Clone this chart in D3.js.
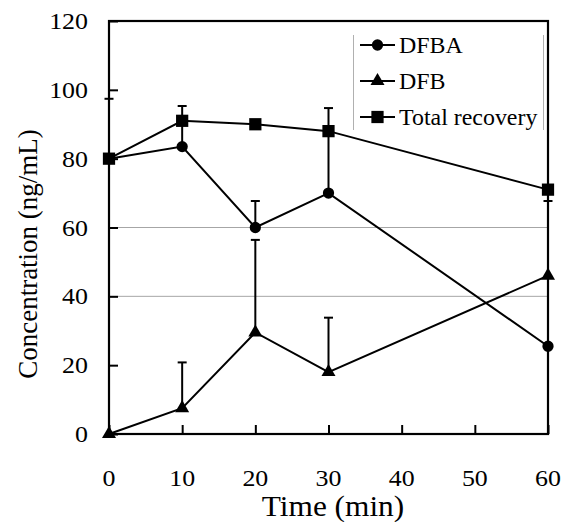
<!DOCTYPE html>
<html><head><meta charset="utf-8">
<script src="https://cdn.jsdelivr.net/npm/d3@7"></script>
<style>body{margin:0;background:#fff}svg{display:block}text{font-family:"Liberation Serif","Times New Roman",serif;fill:#000}</style>
</head><body>
<svg id="c" width="564" height="522"></svg>
<script>
const times = [0, 10, 20, 30, 60];
const xTicks = [0, 10, 20, 30, 40, 50, 60];
const yTicks = [0, 20, 40, 60, 80, 100, 120];
const gridValues = [40, 60];
const dfba = [80, 83.5, 60, 70, 25.5];
const dfb = [0, 7.5, 29.5, 18, 46];
const total = [80, 91, 90, 88, 71];
// error bar lengths (0 = none drawn)
const dfbaErrUp = [0, 7.5, 7.7, 18, 0];
const dfbErrUp = [0, 13.3, 26.9, 15.8, 0];
const totalErrUp = [17.4, 4.3, 0, 6.7, 0];
const totalErrDown = [0, 0, 0, 0, 3.3];
const seriesNames = ["DFBA", "DFB", "Total recovery"];

const svg = d3.select("#c");
const L = 109, R = 548, T = 21, B = 434;
const x = d3.scaleLinear().domain([0, 60]).range([L, R]);
const y = d3.scaleLinear().domain([0, 120]).range([B, T]);

// gridlines
svg.append("g").selectAll("line").data(gridValues).join("line")
  .attr("x1", L).attr("x2", R).attr("y1", d => y(d)).attr("y2", d => y(d))
  .attr("stroke", "#a6a6a6").attr("stroke-width", 1);

// legend box sides
const lg = svg.append("g");
lg.append("line").attr("x1", 353.5).attr("x2", 353.5).attr("y1", 35).attr("y2", 130).attr("stroke", "#b0b0b0");
lg.append("line").attr("x1", 543.5).attr("x2", 543.5).attr("y1", 35).attr("y2", 130).attr("stroke", "#b0b0b0");

// axes with inward ticks
const xAxis = d3.axisBottom(x).tickValues(xTicks).tickSize(-9).tickFormat("");
const yAxis = d3.axisLeft(y).tickValues(yTicks).tickSize(-9).tickFormat("");
const gx = svg.append("g").attr("transform", `translate(0,${B})`).call(xAxis);
const gy = svg.append("g").attr("transform", `translate(${L},0)`).call(yAxis);
[gx, gy].forEach(g => {
  g.select(".domain").remove();
  g.selectAll(".tick line").attr("stroke", "#000").attr("stroke-width", 2);
});
// frame
svg.append("rect").attr("x", L).attr("y", T).attr("width", R - L).attr("height", B - T)
  .attr("fill", "none").attr("stroke", "#000").attr("stroke-width", 2.2);

// tick labels
svg.append("g").selectAll("text").data(xTicks).join("text")
  .attr("transform", d => `translate(${x(d)},486) scale(1.08,1)`)
  .attr("text-anchor", "middle").attr("font-size", 24).text(d => d);
svg.append("g").selectAll("text").data(yTicks).join("text")
  .attr("transform", d => `translate(88,${y(d) + 8}) scale(1.08,1)`)
  .attr("text-anchor", "end").attr("font-size", 24).text(d => d);

// axis titles
svg.append("text").attr("transform", "translate(333,516) scale(1.08,1)")
  .attr("text-anchor", "middle").attr("font-size", 29).text("Time (min)");
svg.append("text").attr("transform", "translate(37,254) rotate(-90)")
  .attr("text-anchor", "middle").attr("font-size", 27).text("Concentration (ng/mL)");

// error bars
function errBars(vals, errs, dir) {
  const g = svg.append("g").attr("stroke", "#000").attr("stroke-width", 2);
  vals.forEach((v, i) => {
    if (!errs[i]) return;
    const end = v + dir * errs[i];
    g.append("line").attr("x1", x(times[i])).attr("x2", x(times[i])).attr("y1", y(v)).attr("y2", y(end));
    g.append("line").attr("x1", x(times[i]) - 4.5).attr("x2", x(times[i]) + 4.5).attr("y1", y(end)).attr("y2", y(end));
  });
}
errBars(dfba, dfbaErrUp, 1);
errBars(dfb, dfbErrUp, 1);
errBars(total, totalErrUp, 1);
errBars(total, totalErrDown, -1);

// lines
const line = d3.line().x((d, i) => x(times[i])).y(d => y(d));
[dfba, dfb, total].forEach(s => {
  svg.append("path").datum(s).attr("d", line).attr("fill", "none").attr("stroke", "#000").attr("stroke-width", 2);
});

// markers
const symCircle = d3.symbol().type(d3.symbolCircle).size(100);
const symTri = d3.symbol().type(d3.symbolTriangle).size(85);
const symSq = d3.symbol().type(d3.symbolSquare).size(150);
const syms = [symCircle, symTri, symSq];
[dfba, dfb, total].forEach((s, k) => {
  svg.append("g").selectAll("path").data(s).join("path")
    .attr("transform", (d, i) => `translate(${x(times[i])},${y(d)})`)
    .attr("d", syms[k]()).attr("fill", "#000");
});

// legend entries
const legY = [45, 81, 117];
seriesNames.forEach((n, k) => {
  lg.append("line").attr("x1", 360).attr("x2", 395).attr("y1", legY[k]).attr("y2", legY[k]).attr("stroke", "#000").attr("stroke-width", 2);
  lg.append("path").attr("transform", `translate(377.5,${legY[k]})`).attr("d", syms[k]()).attr("fill", "#000");
  lg.append("text").attr("transform", `translate(399,${legY[k] + 8}) scale(1.04,1)`).attr("font-size", 23).text(n);
});
</script>
</body></html>
